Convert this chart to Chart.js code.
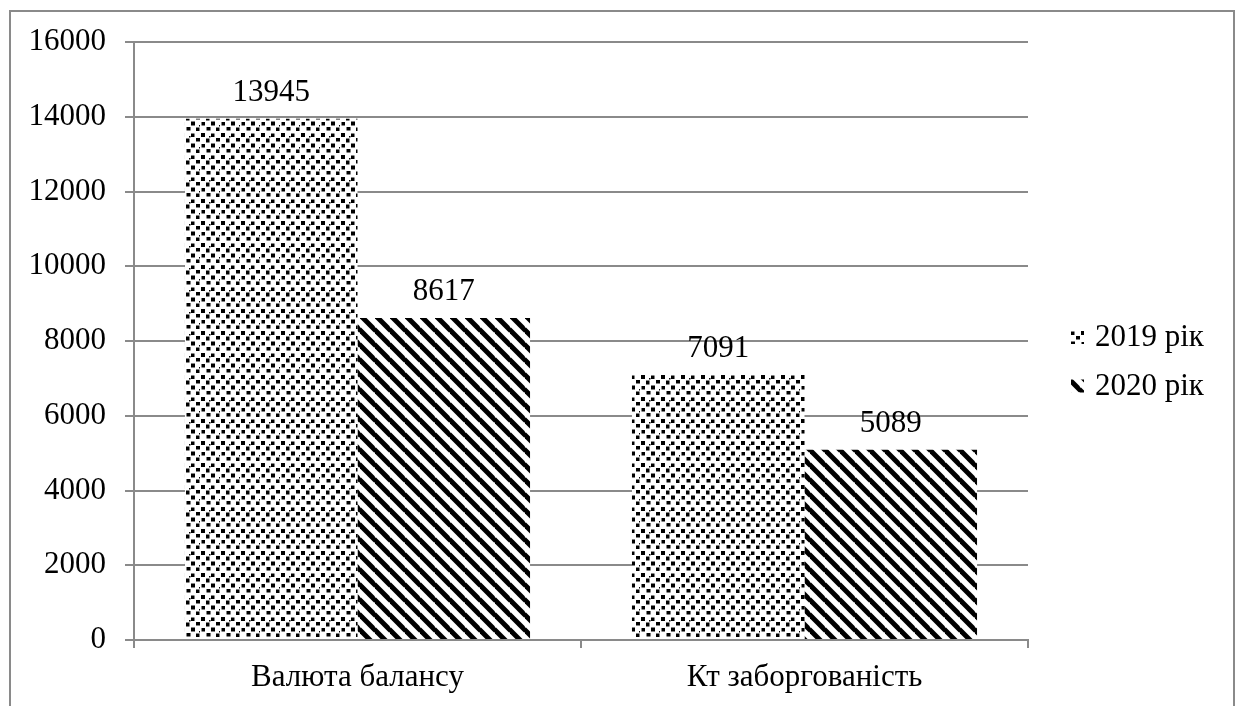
<!DOCTYPE html>
<html>
<head>
<meta charset="utf-8">
<script src="https://cdn.jsdelivr.net/npm/chart.js@4/dist/chart.umd.min.js"></script>
<style>
  html, body { margin: 0; padding: 0; background: #fff; }
  #wrap { position: relative; width: 1237px; height: 706px; overflow: hidden; }
  #frame {
    position: absolute; left: 9px; top: 10px; width: 1222px; height: 800px;
    border: 2px solid #8a8a8a; pointer-events: none;
  }
  canvas { position: absolute; left: 0; top: 0; }
</style>
</head>
<body>
<div id="wrap">
  <canvas id="chart" width="1237" height="706"></canvas>
  <div id="frame"></div>
</div>
<script>
// Chart data
const categories = ['Валюта балансу', 'Кт заборгованість'];
const seriesLabels = ['2019 рік', '2020 рік'];
const values2019 = [13945, 7091];
const values2020 = [8617, 5089];
const yTickLabels = ['0', '2000', '4000', '6000', '8000', '10000', '12000', '14000', '16000'];

const FONT = { family: "'Liberation Serif', 'Times New Roman', serif", size: 31 };
const GRID = '#8a8a8a';

// Confetti-like fill: staggered black squares of slightly varying size
function makeDotPattern(ctx) {
  const c = document.createElement('canvas');
  c.width = 20; c.height = 22;
  const g = c.getContext('2d');
  g.fillStyle = '#fff';
  g.fillRect(0, 0, 20, 22);
  g.fillStyle = '#000';
  g.fillRect(1, 1, 4, 4);
  g.fillRect(11, 1.5, 3.5, 3.5);
  g.fillRect(6, 6.5, 3.5, 4);
  g.fillRect(16, 6, 4, 3.5);
  g.fillRect(1.5, 12, 3.5, 3.5);
  g.fillRect(11, 11.5, 4, 4);
  g.fillRect(6.5, 17, 4, 3.5);
  g.fillRect(16, 17.5, 3.5, 3.5);
  g.fillRect(9, 4, 1.5, 1.5);
  g.fillRect(19, 15, 1, 1.5);
  return ctx.createPattern(c, 'repeat');
}

// Wide downward diagonal stripes
function makeStripePattern(ctx) {
  const P = 15;
  const c = document.createElement('canvas');
  c.width = P; c.height = P;
  const g = c.getContext('2d');
  g.fillStyle = '#fff';
  g.fillRect(0, 0, P, P);
  g.strokeStyle = '#000';
  g.lineWidth = 5;
  for (let k = -1; k <= 1; k++) {
    g.beginPath();
    g.moveTo(-1, k * P - 1);
    g.lineTo(P + 1, P + k * P + 1);
    g.stroke();
  }
  return ctx.createPattern(c, 'repeat');
}

const canvas = document.getElementById('chart');
const ctx = canvas.getContext('2d');
const fill2019 = makeDotPattern(ctx);
const fill2020 = makeStripePattern(ctx);

// Value labels above each bar
const valueLabels = {
  id: 'valueLabels',
  afterDatasetsDraw(chart) {
    const c = chart.ctx;
    c.save();
    c.font = `${FONT.size}px ${FONT.family}`;
    c.fillStyle = '#000';
    c.textAlign = 'center';
    c.textBaseline = 'alphabetic';
    chart.data.datasets.forEach((ds, di) => {
      const meta = chart.getDatasetMeta(di);
      meta.data.forEach((el, i) => {
        c.fillText(String(ds.data[i]), el.x, el.y - 18);
      });
    });
    c.restore();
  }
};

// Legend on the right side
const sideLegend = {
  id: 'sideLegend',
  afterDraw(chart) {
    const c = chart.ctx;
    c.save();
    c.font = `${FONT.size}px ${FONT.family}`;
    c.textAlign = 'left';
    c.textBaseline = 'middle';
    chart.data.datasets.forEach((ds, i) => {
      const cy = 338 + i * 48.5;
      c.fillStyle = ds.backgroundColor;
      c.fillRect(1071, cy - 7, 13, 13);
      c.fillStyle = '#000';
      c.fillText(ds.label, 1095, cy);
    });
    c.restore();
  }
};

new Chart(ctx, {
  type: 'bar',
  data: {
    labels: categories,
    datasets: [
      { label: seriesLabels[0], data: values2019, backgroundColor: fill2019, borderWidth: 0 },
      { label: seriesLabels[1], data: values2020, backgroundColor: fill2020, borderWidth: 0 }
    ]
  },
  options: {
    responsive: false,
    animation: false,
    devicePixelRatio: 1,
    categoryPercentage: 0.772,
    barPercentage: 1.0,
    layout: { padding: { left: 0, right: 209, top: 42, bottom: 0 } },
    plugins: { legend: { display: false }, tooltip: { enabled: false } },
    scales: {
      x: {
        grid: { offset: true, drawOnChartArea: false, drawTicks: true, tickLength: 8, color: GRID, lineWidth: 2 },
        border: { color: GRID, width: 2 },
        ticks: { font: FONT, color: '#000', padding: 11, maxRotation: 0 },
        afterFit(s) { s.height = 66; s.paddingLeft = 0; s.paddingRight = 0; }
      },
      y: {
        min: 0, max: 16000,
        grid: { color: GRID, lineWidth: 2, tickLength: 9 },
        border: { color: GRID, width: 2 },
        ticks: {
          stepSize: 2000, font: FONT, color: '#000', padding: 19,
          callback: (v, i) => yTickLabels[i]
        },
        afterFit(s) { s.width = 134; s.paddingTop = 0; s.paddingBottom = 0; }
      }
    }
  },
  plugins: [valueLabels, sideLegend]
});
</script>
</body>
</html>
